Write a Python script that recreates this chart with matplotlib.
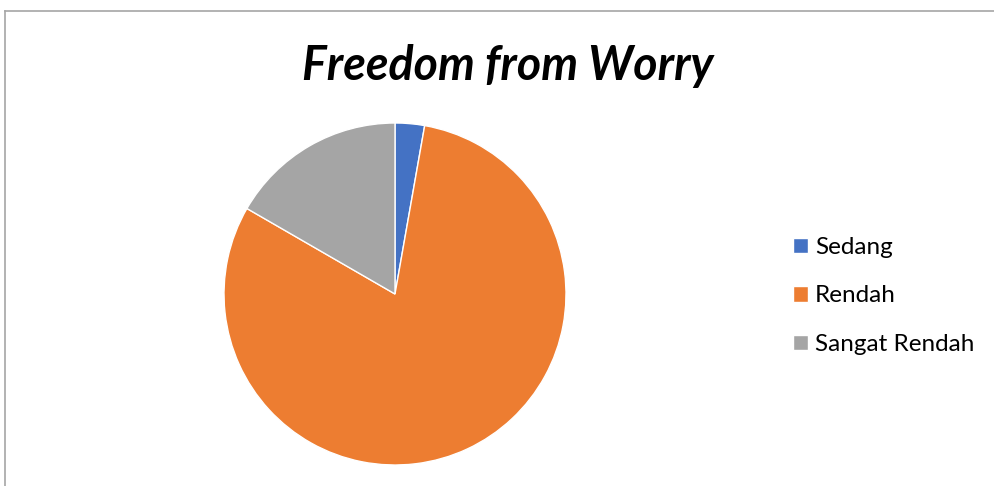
import matplotlib.pyplot as plt
from matplotlib.lines import Line2D

# data
categories = ["Sedang", "Rendah", "Sangat Rendah"]
values = [1, 29, 6]
colors = ["#4472C4", "#ED7D31", "#A5A5A5"]

W, H = 994, 486
fig = plt.figure(figsize=(W / 100, H / 100), dpi=100)

# chart border (cropped on right and bottom)
fig.add_artist(Line2D([5 / W, 5 / W], [-0.1, 1 - 11 / H], color="#A6A6A6", lw=1.2))
fig.add_artist(Line2D([5 / W, 1.1], [1 - 11 / H, 1 - 11 / H], color="#A6A6A6", lw=1.2))

# pie
cx, cy, r = 395, 294, 171
ax = fig.add_axes([(cx - r) / W, (H - cy - r) / H, 2 * r / W, 2 * r / H])
wedges, _ = ax.pie(values, colors=colors, startangle=90, counterclock=False,
                   wedgeprops=dict(edgecolor="white", linewidth=1))
ax.set_xlim(-1, 1)
ax.set_ylim(-1, 1)
ax.set_aspect("equal")
ax.axis("off")

fig.text(508 / W, 1 - 66 / H, "Freedom from Worry", ha="center", va="center",
         fontsize=33.5, fontweight="bold", fontstyle="italic", family="Lato")

fig.legend(wedges, categories, loc="center left", bbox_to_anchor=(786 / W, 1 - 296 / H),
           frameon=False, prop={"family": "Lato", "size": 17.5},
           handlelength=0.6, handleheight=0.6, handletextpad=0.3, labelspacing=1.13,
           borderaxespad=0, borderpad=0.3)

fig.savefig("out.png", dpi=100)
